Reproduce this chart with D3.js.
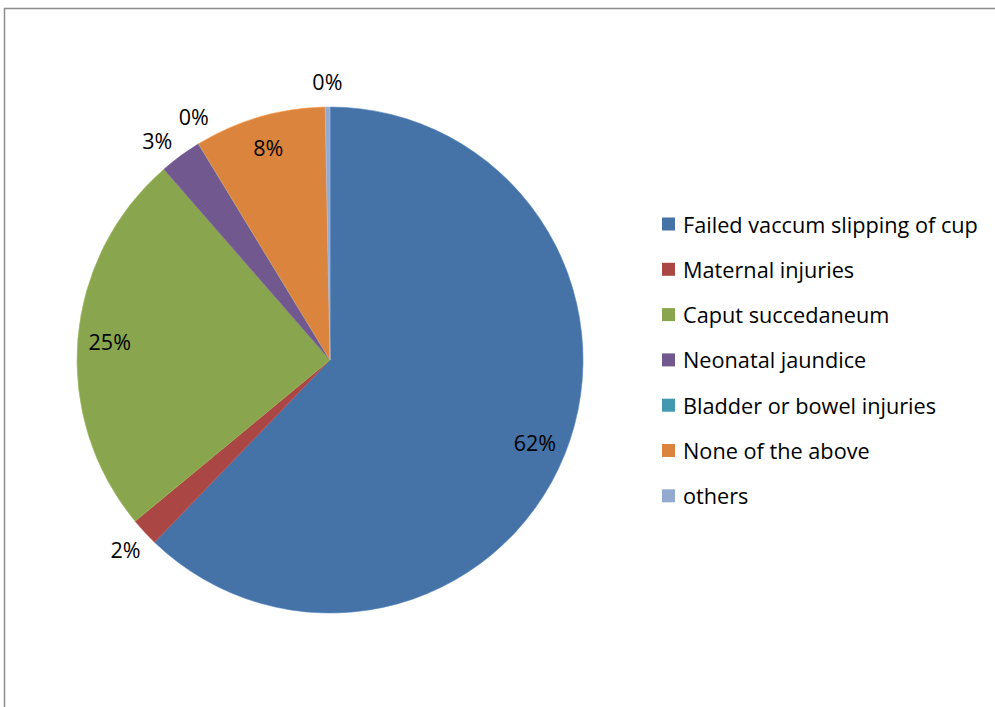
<!DOCTYPE html>
<html>
<head>
<meta charset="utf-8">
<script src="https://cdn.jsdelivr.net/npm/d3@7"></script>
<style>
  html, body { margin: 0; padding: 0; background: #ffffff; }
  svg { display: block; }
  text { font-family: "Open Sans", sans-serif; fill: #000; }
</style>
</head>
<body>
<svg id="chart" width="995" height="707"></svg>
<script>
// Complication categories and their share of cases (%)
const categories = [
  "Failed vaccum slipping of cup",
  "Maternal injuries",
  "Caput succedaneum",
  "Neonatal jaundice",
  "Bladder or bowel injuries",
  "None of the above",
  "others"
];
const values = [62.2, 1.8, 24.6, 2.7, 0, 8.4, 0.3];
const colors = ["#4572A7", "#AA4643", "#89A54E", "#71588F", "#4198AF", "#DB843D", "#93A9CF"];

const svg = d3.select("#chart");
const W = 995, H = 707;

// outer frame
svg.append("rect")
  .attr("x", 4.5).attr("y", 8.5)
  .attr("width", W + 10).attr("height", H + 10)
  .attr("fill", "none")
  .attr("stroke", "#8c8c8c")
  .attr("stroke-width", 1.5);

const cx = 330, cy = 360, R = 253;
const total = d3.sum(values);
const data = categories.map((c, i) => ({ name: c, value: values[i], color: colors[i] }));

const pie = d3.pie().value(d => d.value).sort(null).startAngle(0).endAngle(2 * Math.PI);
const arcs = pie(data);
const arc = d3.arc().innerRadius(0).outerRadius(R);

const g = svg.append("g").attr("transform", `translate(${cx},${cy})`);

g.selectAll("path.slice")
  .data(arcs)
  .join("path")
  .attr("class", "slice")
  .attr("d", arc)
  .attr("fill", d => d.data.color)
  .attr("stroke", d => d3.color(d.data.color).brighter(0.4))
  .attr("stroke-width", 0.6);

// percentage labels: large slices inside, small ones just outside the rim
const pct = d => Math.round(d.data.value / total * 100) + "%";
const rIn = 221, rOut = 279;
const labels = arcs.map(d => ({
  d,
  outside: d.data.value / total < 0.05,
  angle: (d.startAngle + d.endAngle) / 2
}));

// spread neighbouring outside labels so they do not collide
const minSep = 9 * Math.PI / 180;
const outs = labels.filter(l => l.outside);
for (let k = 0; k < 20; k++) {
  for (let i = 1; i < outs.length; i++) {
    const a = outs[i - 1], b = outs[i];
    const gap = b.angle - a.angle;
    if (gap < minSep) {
      const push = (minSep - gap) / 2;
      a.angle -= push;
      b.angle += push;
    }
  }
}
// keep the last label from drifting past 12 o'clock
labels.forEach(l => { if (l.angle > 2 * Math.PI - 0.005) l.angle = 2 * Math.PI - 0.005; });

g.selectAll("text.pct")
  .data(labels)
  .join("text")
  .attr("class", "pct")
  .attr("x", l => (l.outside ? rOut : rIn) * Math.sin(l.angle))
  .attr("y", l => -(l.outside ? rOut : rIn) * Math.cos(l.angle))
  .attr("text-anchor", "middle")
  .attr("dominant-baseline", "central")
  .style("font-size", "21.5px")
  .text(l => pct(l.d));

// legend
const legend = svg.append("g").attr("transform", "translate(662,224)");
const step = 45.3;
const items = legend.selectAll("g.item")
  .data(data)
  .join("g")
  .attr("class", "item")
  .attr("transform", (d, i) => `translate(0,${i * step})`);

items.append("rect")
  .attr("x", 0).attr("y", -6.5)
  .attr("width", 13).attr("height", 13)
  .attr("fill", d => d.color);

items.append("text")
  .attr("x", 21).attr("y", 0)
  .attr("dominant-baseline", "central")
  .style("font-size", "21.7px")
  .text(d => d.name);
</script>
</body>
</html>
